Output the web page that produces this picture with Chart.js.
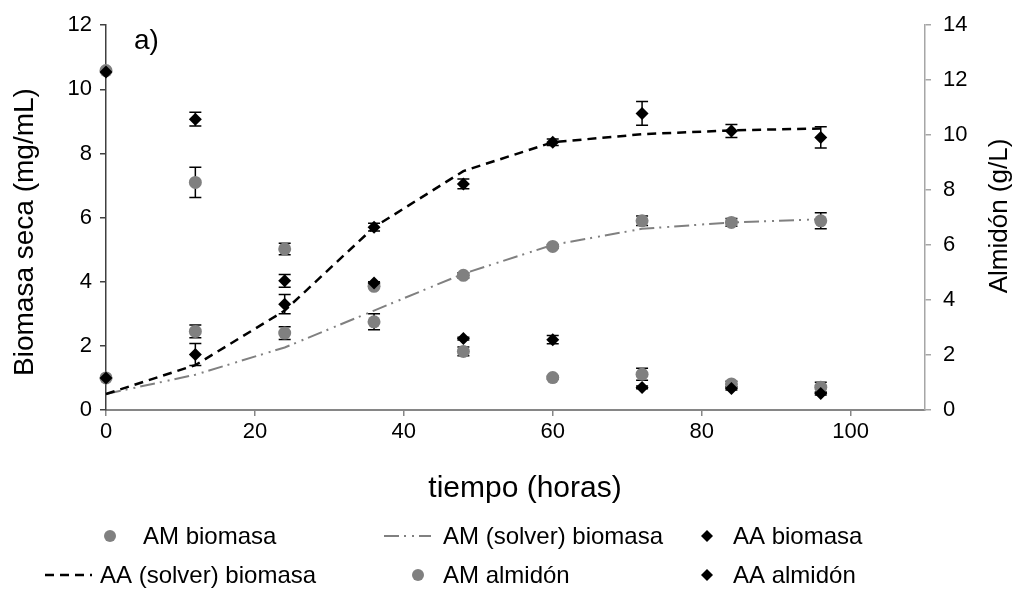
<!DOCTYPE html>
<html>
<head>
<meta charset="utf-8">
<script src="https://cdn.jsdelivr.net/npm/chart.js@4.4.1/dist/chart.umd.min.js"></script>
<style>
  html, body { margin: 0; padding: 0; background: #fff; }
  canvas { display: block; }
</style>
</head>
<body>
<canvas id="chart" width="1021" height="590"></canvas>
<script>
"use strict";

let FONT = "'Liberation Sans', Arial, sans-serif";

let HOURS = [0, 12, 24, 36, 48, 60, 72, 84, 96];

// biomasa, mg/mL (left axis)
let AM_BIOMASA = [1.0, 2.45, 2.4, 2.75, 4.2, 5.1, 5.9, 5.85, 5.9];
let AM_BIOMASA_ERR = [0, 0.2, 0.2, 0.25, 0.08, 0.05, 0.15, 0.12, 0.25];
let AM_SOLVER = [0.5, 1.1, 1.95, 3.1, 4.25, 5.15, 5.65, 5.85, 5.95];

let AA_BIOMASA = [1.0, 1.73, 3.3, 5.7, 7.05, 8.35, 9.25, 8.7, 8.5];
let AA_BIOMASA_ERR = [0, 0.34, 0.3, 0.12, 0.15, 0.1, 0.37, 0.2, 0.33];
let AA_SOLVER = [0.5, 1.4, 3.1, 5.7, 7.45, 8.35, 8.6, 8.72, 8.78];

// almidón, g/L (right axis)
let AM_ALMIDON = [12.35, 8.28, 5.86, 4.5, 2.13, 1.18, 1.3, 0.95, 0.83];
let AM_ALMIDON_ERR = [0, 0.55, 0.21, 0, 0.16, 0.05, 0.22, 0.1, 0.18];
let AA_ALMIDON = [12.3, 10.58, 4.7, 4.62, 2.6, 2.56, 0.82, 0.78, 0.6];
let AA_ALMIDON_ERR = [0, 0.25, 0.23, 0.05, 0.05, 0.15, 0.05, 0.05, 0.05];

let GRAY = "#808080";

function points(values) {
    return HOURS.map(function(h, i) { return {x: h, y: values[i]}; });
}

function markers(label, values, errors, axis, style, color, order) {
    return {
        label: label,
        data: points(values),
        errors: errors,
        yAxisID: axis,
        showLine: false,
        pointStyle: style,
        pointRadius: 6.5,
        pointBackgroundColor: color,
        pointBorderColor: color,
        pointBorderWidth: 0,
        clip: false,
        order: order
    };
}

function curve(label, values, color, width, dash, order) {
    return {
        label: label,
        data: points(values),
        yAxisID: "y",
        showLine: true,
        borderColor: color,
        borderWidth: width,
        borderDash: dash,
        pointRadius: 0,
        tension: 0,
        clip: false,
        order: order
    };
}

let datasets = [
    markers("AM biomasa", AM_BIOMASA, AM_BIOMASA_ERR, "y", "circle", GRAY, 6),
    curve("AM (solver) biomasa", AM_SOLVER, GRAY, 2, [15, 5, 2, 6, 2, 5], 5),
    markers("AA biomasa", AA_BIOMASA, AA_BIOMASA_ERR, "y", "rectRot", "#000", 4),
    curve("AA (solver) biomasa", AA_SOLVER, "#000", 2.5, [9, 6], 3),
    markers("AM almidón", AM_ALMIDON, AM_ALMIDON_ERR, "y2", "circle", GRAY, 2),
    markers("AA almidón", AA_ALMIDON, AA_ALMIDON_ERR, "y2", "rectRot", "#000", 1)
];

// error bars go under the markers
let errorBars = {
    id: "errorBars",
    beforeDatasetsDraw: function(chart) {
        let ctx = chart.ctx;
        ctx.save();
        ctx.strokeStyle = "#000";
        ctx.lineWidth = 1.5;
        chart.data.datasets.forEach(function(ds, di) {
            if (!ds.errors) return;
            let meta = chart.getDatasetMeta(di);
            let scale = chart.scales[ds.yAxisID];
            ds.data.forEach(function(p, i) {
                let e = ds.errors[i];
                if (!e) return;
                let x = meta.data[i].x;
                let top = scale.getPixelForValue(p.y + e);
                let bottom = scale.getPixelForValue(p.y - e);
                ctx.beginPath();
                ctx.moveTo(x, top);
                ctx.lineTo(x, bottom);
                ctx.moveTo(x - 6, top);
                ctx.lineTo(x + 6, top);
                ctx.moveTo(x - 6, bottom);
                ctx.lineTo(x + 6, bottom);
                ctx.stroke();
            });
        });
        ctx.restore();
    }
};

// legend laid out in a 3 x 2 grid under the x axis title
let LEGEND_ROWS = [536, 575];
let LEGEND_CELLS = [
    {row: 0, sym: 110, text: 143},
    {row: 0, sym: 407, text: 443},
    {row: 0, sym: 707, text: 733},
    {row: 1, sym: 68, text: 100},
    {row: 1, sym: 418, text: 443},
    {row: 1, sym: 707, text: 733}
];

function drawSymbol(ctx, ds, x, y) {
    if (ds.showLine) {
        ctx.strokeStyle = ds.borderColor;
        ctx.lineWidth = ds.borderWidth;
        ctx.setLineDash(ds.borderDash);
        ctx.beginPath();
        ctx.moveTo(x - 23, y);
        ctx.lineTo(x + 24, y);
        ctx.stroke();
        ctx.setLineDash([]);
        return;
    }
    ctx.fillStyle = ds.pointBackgroundColor;
    ctx.beginPath();
    if (ds.pointStyle === "circle") {
        ctx.arc(x, y, 6, 0, Math.PI * 2);
    } else {
        ctx.moveTo(x - 6, y);
        ctx.lineTo(x, y - 6);
        ctx.lineTo(x + 6, y);
        ctx.lineTo(x, y + 6);
        ctx.closePath();
    }
    ctx.fill();
}

function verticalText(ctx, text, x, y) {
    ctx.save();
    ctx.translate(x, y);
    ctx.rotate(-Math.PI / 2);
    ctx.fillText(text, 0, 0);
    ctx.restore();
}

let annotations = {
    id: "annotations",
    afterDraw: function(chart) {
        let ctx = chart.ctx;
        let area = chart.chartArea;
        ctx.save();
        ctx.fillStyle = "#000";
        ctx.font = "24px " + FONT;
        ctx.textBaseline = "middle";
        ctx.textAlign = "left";
        chart.data.datasets.forEach(function(ds, i) {
            let cell = LEGEND_CELLS[i];
            let y = LEGEND_ROWS[cell.row];
            drawSymbol(ctx, ds, cell.sym, y);
            ctx.fillStyle = "#000";
            ctx.fillText(ds.label, cell.text, y + 1);
        });

        // panel tag
        ctx.font = "28px " + FONT;
        ctx.fillText("a)", area.left + 28, area.top + 16);

        // axis titles
        ctx.textAlign = "center";
        ctx.font = "30px " + FONT;
        ctx.fillText("tiempo (horas)", 525, 489);
        ctx.font = "28px " + FONT;
        verticalText(ctx, "Biomasa seca (mg/mL)", 25, 232);
        ctx.font = "26px " + FONT;
        verticalText(ctx, "Almidón (g/L)", chart.width - 21, 216);
        ctx.restore();
    }
};

let tickFont = {family: FONT, size: 22};

new Chart(document.getElementById("chart"), {
    type: "line",
    data: {datasets: datasets},
    plugins: [errorBars, annotations],
    options: {
        responsive: false,
        animation: false,
        layout: {padding: {top: 16, bottom: 80, left: 0, right: 0}},
        plugins: {
            legend: {display: false},
            tooltip: {enabled: false}
        },
        scales: {
            x: {
                type: "linear",
                min: 0,
                max: 110,
                ticks: {stepSize: 20, includeBounds: false, color: "#000", font: tickFont, padding: 3},
                grid: {drawOnChartArea: false, tickLength: 6, color: "#868686", lineWidth: 1.5},
                border: {color: "#868686", width: 2},
                afterFit: function(s) { s.height = 100; }
            },
            y: {
                position: "left",
                min: 0,
                max: 12,
                ticks: {stepSize: 2, color: "#000", font: tickFont, padding: 8},
                grid: {drawOnChartArea: false, tickLength: 6, color: "#404040", lineWidth: 1.5},
                border: {color: "#404040", width: 1.5},
                afterFit: function(s) { s.width = 106; }
            },
            y2: {
                position: "right",
                min: 0,
                max: 14,
                ticks: {stepSize: 2, color: "#000", font: tickFont, padding: 12},
                grid: {drawOnChartArea: false, tickLength: 6, color: "#a6a6a6", lineWidth: 1.5},
                border: {color: "#a6a6a6", width: 1.5},
                afterFit: function(s) { s.width = 96; }
            }
        }
    }
});
</script>
</body>
</html>
